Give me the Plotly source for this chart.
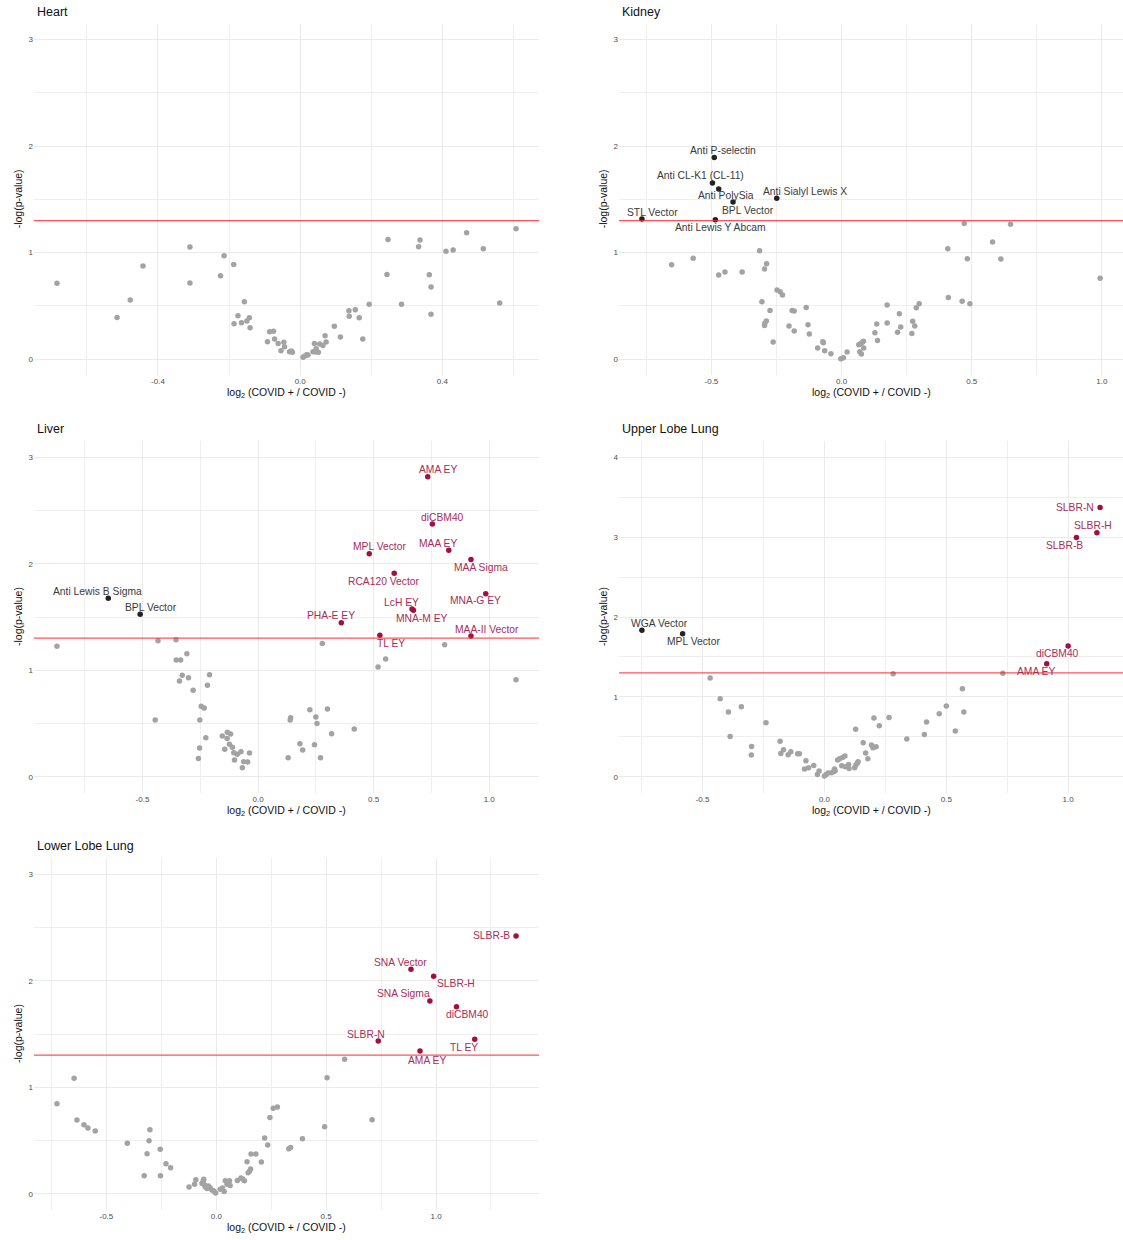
import numpy as np
import plotly.graph_objects as go

# ---------------- data ----------------
HEART_X = [-0.684, -0.515, -0.478, -0.442, -0.310, -0.310, -0.224, -0.214, -0.187, -0.157, -0.175,
           -0.186, -0.165, -0.150, -0.143, -0.141, -0.086, -0.075, -0.092, -0.072, -0.062, -0.046,
           -0.044, -0.054, -0.030, -0.025, -0.022, 0.008, 0.013, 0.018, 0.022, 0.036, 0.040, 0.045,
           0.051, 0.055, 0.064, 0.070, 0.073, 0.043, 0.096, 0.113, 0.137, 0.138, 0.155, 0.166, 0.176,
           0.194, 0.244, 0.247, 0.285, 0.333, 0.337, 0.363, 0.368, 0.368, 0.410, 0.430, 0.468, 0.515,
           0.561, 0.607]
HEART_Y = [0.711, 0.391, 0.554, 0.874, 1.052, 0.714, 0.783, 0.971, 0.889, 0.539, 0.407,
           0.332, 0.341, 0.357, 0.388, 0.294, 0.257, 0.260, 0.163, 0.188, 0.147, 0.157,
           0.116, 0.078, 0.069, 0.075, 0.063, 0.016, 0.028, 0.041, 0.038, 0.069, 0.147, 0.097,
           0.063, 0.141, 0.128, 0.219, 0.160, 0.066, 0.307, 0.207, 0.454, 0.401, 0.464, 0.388, 0.188,
           0.514, 0.795, 1.124, 0.514, 1.055, 1.118, 0.792, 0.676, 0.420, 1.012, 1.024, 1.187, 1.037,
           0.526, 1.225]

KIDNEY_X = [-0.653, -0.570, -0.472, -0.448, -0.382, -0.315, -0.296, -0.288, -0.306, -0.275, -0.289,
            -0.295, -0.296, -0.263, -0.248, -0.236, -0.227, -0.190, -0.182, -0.202, -0.182, -0.136,
            -0.129, -0.124, -0.092, -0.072, -0.070, -0.065, -0.041, -0.003, 0.007, 0.021, 0.066, 0.073,
            0.080, 0.084, 0.070, 0.076, 0.085, 0.128, 0.135, 0.138, 0.175, 0.175, 0.215, 0.222, 0.227,
            0.270, 0.273, 0.281, 0.287, 0.298, 0.408, 0.410, 0.463, 0.471, 0.483, 0.493, 0.580, 0.612,
            0.649, 0.993]
KIDNEY_Y = [0.886, 0.946, 0.789, 0.817, 0.817, 1.018, 0.846, 0.896, 0.539, 0.457, 0.357,
            0.335, 0.316, 0.160, 0.648, 0.633, 0.601, 0.457, 0.451, 0.310, 0.263, 0.485,
            0.323, 0.235, 0.103, 0.163, 0.153, 0.078, 0.050, 0.003, 0.013, 0.066, 0.135, 0.144,
            0.157, 0.166, 0.069, 0.047, 0.103, 0.247, 0.329, 0.175, 0.507, 0.338, 0.251, 0.426, 0.301,
            0.241, 0.354, 0.310, 0.482, 0.520, 1.037, 0.579, 0.542, 1.272, 0.943, 0.520, 1.099, 0.940,
            1.265, 0.758]
KIDNEY_DOWN_LABELS = ["Anti P-selectin", "Anti CL-K1 (CL-11)", "Anti PolySia", "BPL Vector",
                      "Anti Sialyl Lewis X", "STL Vector", "Anti Lewis Y Abcam"]
KIDNEY_DOWN_X = [-0.489, -0.496, -0.472, -0.417, -0.249, -0.767, -0.485]
KIDNEY_DOWN_Y = [1.892, 1.654, 1.597, 1.475, 1.510, 1.315, 1.309]

LIVER_X = [-0.870, -0.445, -0.433, -0.355, -0.354, -0.335, -0.308, -0.340, -0.328, -0.301, -0.281,
           -0.210, -0.219, -0.246, -0.233, -0.252, -0.226, -0.253, -0.258, -0.155, -0.133, -0.134,
           -0.119, -0.124, -0.111, -0.144, -0.105, -0.102, -0.090, -0.074, -0.062, -0.068, -0.045,
           -0.037, 0.130, 0.141, 0.139, 0.181, 0.193, 0.224, 0.244, 0.250, 0.255, 0.270, 0.278, 0.300,
           0.318, 0.416, 0.519, 0.552, 0.807, 1.116]
LIVER_Y = [1.225, 0.532, 1.278, 1.287, 1.096, 1.096, 1.156, 0.899, 0.952, 0.930, 0.811,
           0.958, 0.858, 0.661, 0.645, 0.532, 0.366, 0.269, 0.172, 0.382, 0.417, 0.360,
           0.401, 0.304, 0.276, 0.257, 0.225, 0.157, 0.210, 0.235, 0.141, 0.085, 0.138,
           0.222, 0.179, 0.554, 0.532, 0.310, 0.251, 0.629, 0.301, 0.561, 0.501, 0.179, 1.250, 0.636,
           0.404, 0.448, 1.030, 1.106, 1.240, 0.911]
LIVER_DOWN_LABELS = ["Anti Lewis B Sigma", "BPL Vector"]
LIVER_DOWN_X = [-0.648, -0.510]
LIVER_DOWN_Y = [1.676, 1.525]
LIVER_UP_LABELS = ["AMA EY", "diCBM40", "MAA EY", "MPL Vector", "MAA Sigma", "RCA120 Vector",
                   "MNA-G EY", "LcH EY", "MNA-M EY", "PHA-E EY", "TL EY", "MAA-II Vector"]
LIVER_UP_X = [0.734, 0.754, 0.825, 0.481, 0.921, 0.589, 0.985, 0.666, 0.672, 0.360, 0.527, 0.921]
LIVER_UP_Y = [2.816, 2.374, 2.127, 2.095, 2.039, 1.910, 1.719, 1.575, 1.563, 1.447, 1.328, 1.322]

UPPER_X = [-0.469, -0.428, -0.394, -0.341, -0.387, -0.240, -0.299, -0.300, -0.182, -0.179, -0.168,
           -0.149, -0.138, -0.110, -0.103, -0.076, -0.082, -0.065, -0.044, -0.029, -0.022, 0.000,
           0.007, 0.015, 0.029, 0.037, 0.041, 0.044, 0.054, 0.062, 0.071, 0.074, 0.084, 0.085, 0.099,
           0.101, 0.124, 0.129, 0.135, 0.138, 0.128, 0.159, 0.169, 0.178, 0.193, 0.199, 0.212, 0.203,
           0.225, 0.265, 0.282, 0.338, 0.410, 0.419, 0.471, 0.500, 0.537, 0.566, 0.572, 0.732]
UPPER_Y = [1.236, 0.977, 0.810, 0.877, 0.505, 0.676, 0.380, 0.271, 0.443, 0.292, 0.338,
           0.276, 0.313, 0.288, 0.288, 0.200, 0.096, 0.113, 0.142, 0.029, 0.071, 0.008,
           0.029, 0.046, 0.050, 0.063, 0.096, 0.075, 0.209, 0.225, 0.138, 0.242, 0.259, 0.125, 0.154,
           0.104, 0.113, 0.146, 0.171, 0.188, 0.593, 0.426, 0.296, 0.225, 0.397, 0.363, 0.376, 0.735,
           0.639, 0.743, 1.290, 0.472, 0.530, 0.685, 0.789, 0.885, 0.572, 1.102, 0.810, 1.295]
UPPER_DOWN_LABELS = ["WGA Vector", "MPL Vector"]
UPPER_DOWN_X = [-0.749, -0.582]
UPPER_DOWN_Y = [1.833, 1.791]
UPPER_UP_LABELS = ["SLBR-N", "SLBR-H", "SLBR-B", "diCBM40", "AMA EY"]
UPPER_UP_X = [1.131, 1.118, 1.034, 1.000, 0.912]
UPPER_UP_Y = [3.370, 3.056, 2.994, 1.637, 1.415]

LOWER_X = [-0.725, -0.647, -0.634, -0.602, -0.584, -0.551, -0.405, -0.328, -0.315, -0.306, -0.302,
           -0.255, -0.254, -0.229, -0.208, -0.124, -0.099, -0.093, -0.065, -0.060, -0.057, -0.054,
           -0.050, -0.042, -0.036, -0.028, -0.020, -0.011, -0.003, 0.018, 0.028, 0.036, 0.041, 0.049,
           0.060, 0.063, 0.096, 0.112, 0.120, 0.128, 0.140, 0.145, 0.151, 0.156, 0.158, 0.180, 0.205,
           0.220, 0.234, 0.244, 0.259, 0.278, 0.330, 0.338, 0.392, 0.493, 0.504, 0.584, 0.709]
LOWER_Y = [0.846, 1.084, 0.692, 0.648, 0.617, 0.589, 0.473, 0.169, 0.376, 0.498, 0.601,
           0.417, 0.169, 0.282, 0.244, 0.063, 0.088, 0.132, 0.097, 0.119, 0.135, 0.085,
           0.063, 0.050, 0.072, 0.056, 0.034, 0.025, 0.006, 0.041, 0.053, 0.022, 0.122, 0.088,
           0.122, 0.078, 0.125, 0.147, 0.138, 0.122, 0.301, 0.197, 0.210, 0.232, 0.373, 0.373, 0.298,
           0.523, 0.457, 0.717, 0.802, 0.814, 0.423, 0.435, 0.517, 0.630, 1.090, 1.262, 0.695]
LOWER_UP_LABELS = ["SLBR-B", "SNA Vector", "SLBR-H", "SNA Sigma", "diCBM40", "TL EY", "SLBR-N", "AMA EY"]
LOWER_UP_X = [1.364, 0.886, 0.989, 0.972, 1.093, 1.176, 0.737, 0.927]
LOWER_UP_Y = [2.421, 2.108, 2.042, 1.810, 1.757, 1.450, 1.434, 1.340]

THRESHOLD = -np.log10(0.05)

# ---------------- layout / style ----------------
W, H = 1123, 1240

GRAY = "#A3A3A3"
DARK = "#222222"
DARK_TXT = "#3A3A3A"
RED = "#A20F40"
RED_TXT = "#A82D59"
FONT = "Liberation Sans"
LABEL_SIZE = 10.3

# label offsets in pixels (dx right, dy down) mimicking ggrepel placement
OFFSETS = {
    "Kidney": {"Anti P-selectin": (8.6, -6.7), "Anti CL-K1 (CL-11)": (-11.5, -7),
               "Anti PolySia": (6.8, 6.7), "BPL Vector": (15, 8.3),
               "Anti Sialyl Lewis X": (28.4, -6.7), "STL Vector": (10.4, -7),
               "Anti Lewis Y Abcam": (5.4, 8)},
    "Liver": {"AMA EY": (10.4, -7), "diCBM40": (10, -6.7), "MAA EY": (-10.7, -6.3),
              "MPL Vector": (10, -6.7), "MAA Sigma": (10.4, 8), "RCA120 Vector": (-10, 7.7),
              "MNA-G EY": (-10.4, 7.3), "LcH EY": (-10.7, -7), "MNA-M EY": (8.9, 8),
              "PHA-E EY": (-10.4, -6.7), "TL EY": (10.7, 8), "MAA-II Vector": (16.4, -6.7),
              "Anti Lewis B Sigma": (-11, -6.7), "BPL Vector": (11, -7)},
    "Upper Lobe Lung": {"WGA Vector": (18, -7), "MPL Vector": (10.8, 7.7), "SLBR-N": (-25.5, 0),
                        "SLBR-H": (-4, -7.3), "SLBR-B": (-12.2, 7.7), "diCBM40": (-10.4, 7.7),
                        "AMA EY": (-11.1, 7.7)},
    "Lower Lobe Lung": {"SLBR-B": (-25, 0), "SNA Vector": (-10.4, -7), "SLBR-H": (22.5, 7),
                        "SNA Sigma": (-26, -7), "diCBM40": (11, 7.7), "TL EY": (-10.7, 7.7),
                        "SLBR-N": (-12, -6.7), "AMA EY": (6.8, 9.7)},
}

# panel extents in page pixels
COLS_PX = [(34, 539), (619, 1123)]
ROWS_PX = [(23.7, 375.0), (441.3, 792.7), (858.3, 1209.7)]


def px_x(v):
    return v / W


def px_y(v):
    return 1 - v / H


panels = [
    dict(name="Heart", col=0, row=0, gx=HEART_X, gy=HEART_Y, down=None, up=None, ymax=3, xdt=0.4),
    dict(name="Kidney", col=1, row=0, gx=KIDNEY_X, gy=KIDNEY_Y,
         down=(KIDNEY_DOWN_LABELS, KIDNEY_DOWN_X, KIDNEY_DOWN_Y), up=None, ymax=3, xdt=0.5),
    dict(name="Liver", col=0, row=1, gx=LIVER_X, gy=LIVER_Y,
         down=(LIVER_DOWN_LABELS, LIVER_DOWN_X, LIVER_DOWN_Y),
         up=(LIVER_UP_LABELS, LIVER_UP_X, LIVER_UP_Y), ymax=3, xdt=0.5),
    dict(name="Upper Lobe Lung", col=1, row=1, gx=UPPER_X, gy=UPPER_Y,
         down=(UPPER_DOWN_LABELS, UPPER_DOWN_X, UPPER_DOWN_Y),
         up=(UPPER_UP_LABELS, UPPER_UP_X, UPPER_UP_Y), ymax=4, xdt=0.5),
    dict(name="Lower Lobe Lung", col=0, row=2, gx=LOWER_X, gy=LOWER_Y, down=None,
         up=(LOWER_UP_LABELS, LOWER_UP_X, LOWER_UP_Y), ymax=3, xdt=0.5),
]

fig = go.Figure()
annotations = []
shapes = []
layout = dict(
    width=W, height=H, margin=dict(l=0, r=0, t=0, b=0),
    paper_bgcolor="white", plot_bgcolor="white", showlegend=False,
    font=dict(family=FONT, color="#222222"),
)

for i, p in enumerate(panels, start=1):
    xs = "" if i == 1 else str(i)
    xa, ya = "x" + xs, "y" + xs
    x0, x1 = COLS_PX[p["col"]]
    top, bot = ROWS_PX[p["row"]]

    allx = list(p["gx"])
    for grp in (p["down"], p["up"]):
        if grp:
            allx += list(grp[1])
    xmin, xmax = min(allx), max(allx)
    span = xmax - xmin
    xr = [xmin - 0.05 * span, xmax + 0.05 * span]
    yr = [-0.05 * p["ymax"], p["ymax"] * 1.05]

    dt = p["xdt"]
    tv = np.arange(np.ceil(xr[0] / dt) * dt, xr[1] + 1e-9, dt)
    tv = [round(v, 3) for v in tv]
    tt = [f"{v:.1f}" for v in tv]

    layout["xaxis" + xs] = dict(
        domain=[px_x(x0), min(1.0, px_x(x1))], anchor=ya, range=xr, tickvals=tv, ticktext=tt,
        showgrid=True, gridcolor="#EBEBEB", gridwidth=1, zeroline=False, showline=False,
        ticks="", tickfont=dict(size=8, color="#4D4D4D", family=FONT),
        minor=dict(showgrid=True, dtick=dt, tick0=dt / 2, gridcolor="#EFEFEF", gridwidth=0.6),
        fixedrange=True,
    )
    layout["yaxis" + xs] = dict(
        domain=[px_y(bot), px_y(top)], anchor=xa, range=yr, dtick=1, tick0=0,
        showgrid=True, gridcolor="#EBEBEB", gridwidth=1, zeroline=False, showline=False,
        ticks="", tickfont=dict(size=8, color="#4D4D4D", family=FONT),
        minor=dict(showgrid=True, dtick=0.5, tick0=0.5, gridcolor="#EFEFEF", gridwidth=0.6),
        fixedrange=True,
    )

    # non-significant points
    fig.add_trace(go.Scatter(x=p["gx"], y=p["gy"], mode="markers", xaxis=xa, yaxis=ya,
                             marker=dict(color=GRAY, size=5.5), hoverinfo="skip"))
    # threshold line
    shapes.append(dict(type="line", xref=xa + " domain", yref=ya, x0=0, x1=1,
                       y0=THRESHOLD, y1=THRESHOLD, line=dict(color="rgba(255,40,50,0.8)", width=1.3)))
    # significant points + labels
    for grp, mc, tc in ((p["down"], DARK, DARK_TXT), (p["up"], RED, RED_TXT)):
        if not grp:
            continue
        labs, gxs, gys = grp
        fig.add_trace(go.Scatter(x=gxs, y=gys, mode="markers", xaxis=xa, yaxis=ya,
                                 marker=dict(color=mc, size=5.5), text=labs, hoverinfo="text"))
        for lab, lx, ly in zip(labs, gxs, gys):
            dx, dy = OFFSETS[p["name"]][lab]
            annotations.append(dict(x=lx, y=ly, xref=xa, yref=ya, text=lab, showarrow=False,
                                    xshift=dx, yshift=-dy, xanchor="center", yanchor="middle",
                                    font=dict(size=LABEL_SIZE, color=tc, family=FONT)))

    # panel title
    annotations.append(dict(x=px_x(x0 + 1), y=px_y(top - 12), xref="paper", yref="paper",
                            text=p["name"], showarrow=False, xanchor="left", yanchor="middle",
                            font=dict(size=12.5, color="#111111", family=FONT)))
    # axis titles
    annotations.append(dict(x=px_x((x0 + x1) / 2), y=px_y(bot + 18), xref="paper", yref="paper",
                            text="log<sub>2</sub> (COVID + / COVID -)", showarrow=False,
                            xanchor="center", yanchor="middle",
                            font=dict(size=10.5, color="#111111", family=FONT)))
    annotations.append(dict(x=px_x(x0 - 16), y=px_y((top + bot) / 2), xref="paper", yref="paper",
                            text="-log(p-value)", showarrow=False, textangle=-90,
                            xanchor="center", yanchor="middle",
                            font=dict(size=10.5, color="#111111", family=FONT)))

layout["annotations"] = annotations
layout["shapes"] = shapes
fig.update_layout(**layout)
fig.write_html(
    "out.html",
    config={"displayModeBar": False},
    post_script="document.body.style.margin='0';document.body.style.overflow='hidden';",
)
